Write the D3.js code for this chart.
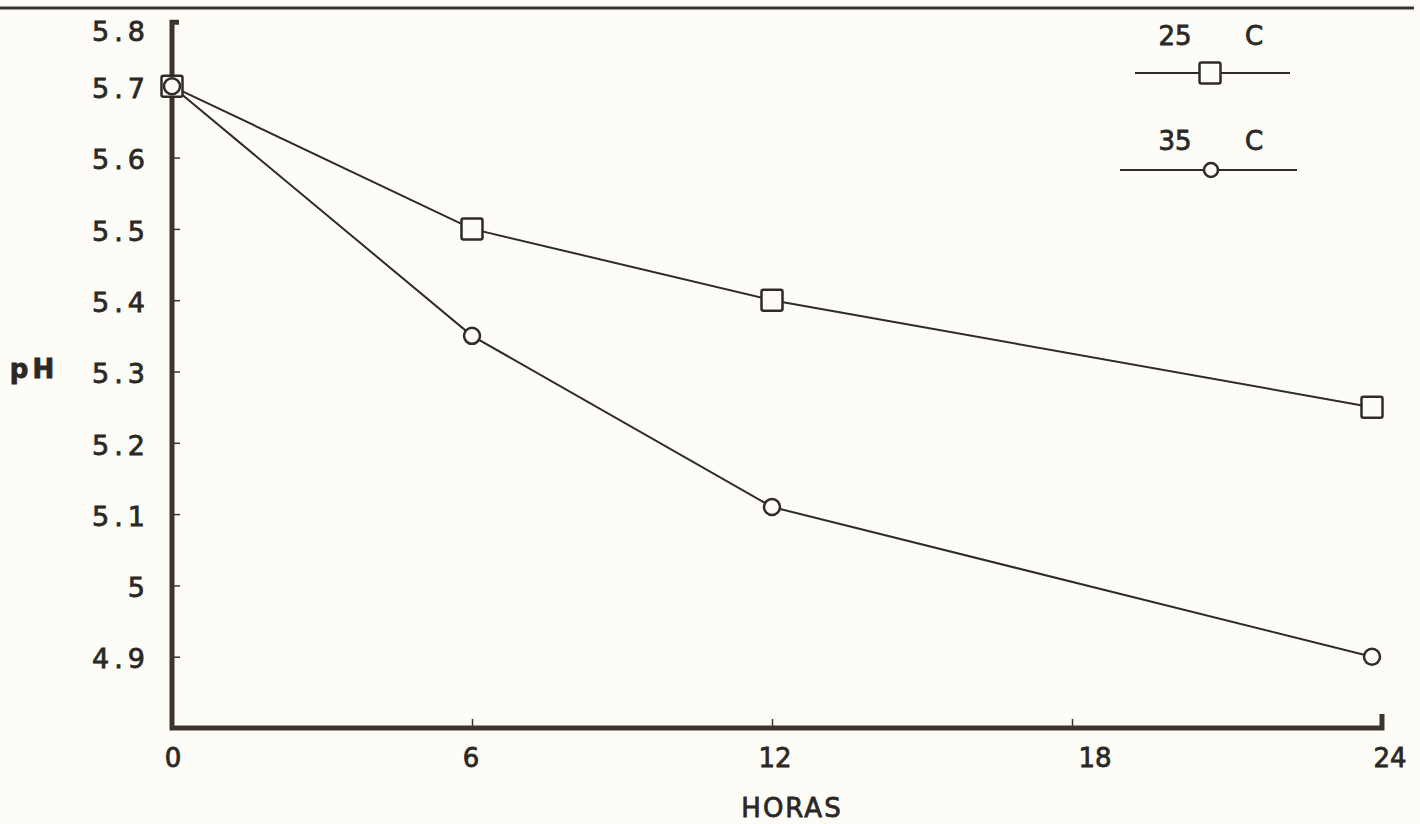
<!DOCTYPE html>
<html lang="es">
<head>
    <meta charset="UTF-8">
    <title>pH vs horas</title>
    <script src="https://d3js.org/d3.v7.min.js"></script>
    <style>
        body { margin: 0; background: #fdfcf7; }
        svg { display: block; }
        .lbl { font-family: "DejaVu Sans", sans-serif; fill: #2b2825; stroke: #2b2825; stroke-width: 0.8; }
    </style>
</head>
<body>
    <div id="chart"></div>

    <script>
        // Datos
        const horas = [0, 6, 12, 24];
        const ph25 = [5.7, 5.5, 5.4, 5.25];
        const ph35 = [5.7, 5.35, 5.11, 4.9];
        const xTicks = [0, 6, 12, 18, 24];
        const yTicks = [4.9, 5.0, 5.1, 5.2, 5.3, 5.4, 5.5, 5.6, 5.7, 5.8];
        const yTickLabels = ["4.9", "5", "5.1", "5.2", "5.3", "5.4", "5.5", "5.6", "5.7", "5.8"];
        const seriesNames = ["25", "35"];

        const width = 1420, height = 824;
        const ink = "#2e2b28";
        const axisInk = "#3f342c";
        const paper = "#fdfcf7";

        const svg = d3.select("#chart")
            .append("svg")
            .attr("width", width)
            .attr("height", height);

        // escalas
        const x = d3.scaleLinear().domain([0, 24]).range([172, 1372]);
        const y = d3.scaleLinear().domain([4.8, 5.8]).range([728, 15]);

        // línea superior del recorte
        svg.append("line")
            .attr("x1", 0).attr("x2", 1414)
            .attr("y1", 8).attr("y2", 8)
            .attr("stroke", "#3a3430").attr("stroke-width", 3);

        // ejes
        const xAxisG = svg.append("g")
            .attr("transform", `translate(0,${y(4.8)})`)
            .call(d3.axisTop(x).tickValues(xTicks).tickSize(9).tickFormat(""));
        xAxisG.select(".domain").remove();
        xAxisG.selectAll(".tick line").attr("stroke", axisInk).attr("stroke-width", 1.5)
            .filter(d => d === 0 || d === 24).remove();

        const yAxisG = svg.append("g")
            .attr("transform", `translate(${x(0)},0)`)
            .call(d3.axisRight(y).tickValues(yTicks.slice(0, -1)).tickSize(8).tickFormat(""));
        yAxisG.select(".domain").remove();
        yAxisG.selectAll(".tick line").attr("stroke", axisInk).attr("stroke-width", 1.5);

        const yTop = y(5.79);
        const xEnd = x(24) + 10;
        svg.append("path")
            .attr("d", `M${x(0) + 7},${yTop} H${x(0)} V${y(4.8)} H${xEnd} V${y(4.8) - 14}`)
            .attr("fill", "none")
            .attr("stroke", axisInk)
            .attr("stroke-width", 5);

        // etiquetas de ticks
        svg.selectAll(".ytl")
            .data(yTicks)
            .enter()
            .append("text")
            .attr("class", "lbl")
            .attr("x", 150)
            .attr("y", (d, i) => i === yTicks.length - 1 ? yTop + 9 : y(d) + 2)
            .attr("dy", "0.36em")
            .attr("text-anchor", "end")
            .attr("font-size", 27)
            .attr("letter-spacing", 5)
            .text((d, i) => yTickLabels[i]);

        const xLabelShift = { 0: 1, 6: -1, 12: 3, 18: 23, 24: 18 };
        svg.selectAll(".xtl")
            .data(xTicks)
            .enter()
            .append("text")
            .attr("class", "lbl")
            .attr("x", d => x(d) + xLabelShift[d])
            .attr("y", 758)
            .attr("dy", "0.36em")
            .attr("text-anchor", "middle")
            .attr("font-size", 26)
            .text(d => d);

        svg.append("text")
            .attr("class", "lbl")
            .attr("x", 792).attr("y", 808)
            .attr("dy", "0.36em")
            .attr("text-anchor", "middle")
            .attr("font-size", 26)
            .attr("letter-spacing", 2)
            .text("HORAS");

        svg.append("text")
            .attr("class", "lbl")
            .attr("x", 34).attr("y", 369)
            .attr("dy", "0.36em")
            .attr("text-anchor", "middle")
            .attr("font-size", 26)
            .attr("font-weight", "bold")
            .attr("letter-spacing", 4)
            .text("pH");

        // líneas de datos
        const line = d3.line()
            .x(d => x(d[0]))
            .y(d => y(d[1]));

        const s25 = horas.map((h, i) => [h, ph25[i]]);
        const s35 = horas.map((h, i) => [h, ph35[i]]);

        [s25, s35].forEach(s => {
            svg.append("path")
                .datum(s)
                .attr("d", line)
                .attr("fill", "none")
                .attr("stroke", ink)
                .attr("stroke-width", 2);
        });

        const sq = 21;
        svg.selectAll(".sq")
            .data(s25)
            .enter()
            .append("rect")
            .attr("x", d => x(d[0]) - sq / 2)
            .attr("y", d => y(d[1]) - sq / 2)
            .attr("width", sq).attr("height", sq)
            .attr("rx", 2)
            .attr("fill", paper)
            .attr("stroke", ink)
            .attr("stroke-width", 2.5);

        svg.selectAll(".ci")
            .data(s35)
            .enter()
            .append("circle")
            .attr("cx", d => x(d[0]))
            .attr("cy", d => y(d[1]))
            .attr("r", 8)
            .attr("fill", paper)
            .attr("stroke", ink)
            .attr("stroke-width", 2.5);

        // leyenda
        const legend = svg.append("g");
        const legendRows = [
            { name: seriesNames[0], ty: 36, ly: 73, x1: 1135, x2: 1290, mark: "sq" },
            { name: seriesNames[1], ty: 141, ly: 170, x1: 1120, x2: 1297, mark: "ci" }
        ];
        legendRows.forEach(r => {
            legend.append("text")
                .attr("class", "lbl")
                .attr("x", 1175).attr("y", r.ty)
                .attr("dy", "0.36em")
                .attr("text-anchor", "middle")
                .attr("font-size", 26)
                .text(r.name);
            legend.append("text")
                .attr("class", "lbl")
                .attr("x", 1254).attr("y", r.ty)
                .attr("dy", "0.36em")
                .attr("text-anchor", "middle")
                .attr("font-size", 26)
                .text("C");
            legend.append("line")
                .attr("x1", r.x1).attr("x2", r.x2)
                .attr("y1", r.ly).attr("y2", r.ly)
                .attr("stroke", ink).attr("stroke-width", 2);
            if (r.mark === "sq") {
                legend.append("rect")
                    .attr("x", 1210 - sq / 2).attr("y", r.ly - sq / 2)
                    .attr("width", sq).attr("height", sq).attr("rx", 2)
                    .attr("fill", paper).attr("stroke", ink).attr("stroke-width", 2.5);
            } else {
                legend.append("circle")
                    .attr("cx", 1211).attr("cy", r.ly).attr("r", 7)
                    .attr("fill", paper).attr("stroke", ink).attr("stroke-width", 2.5);
            }
        });
    </script>
</body>
</html>
